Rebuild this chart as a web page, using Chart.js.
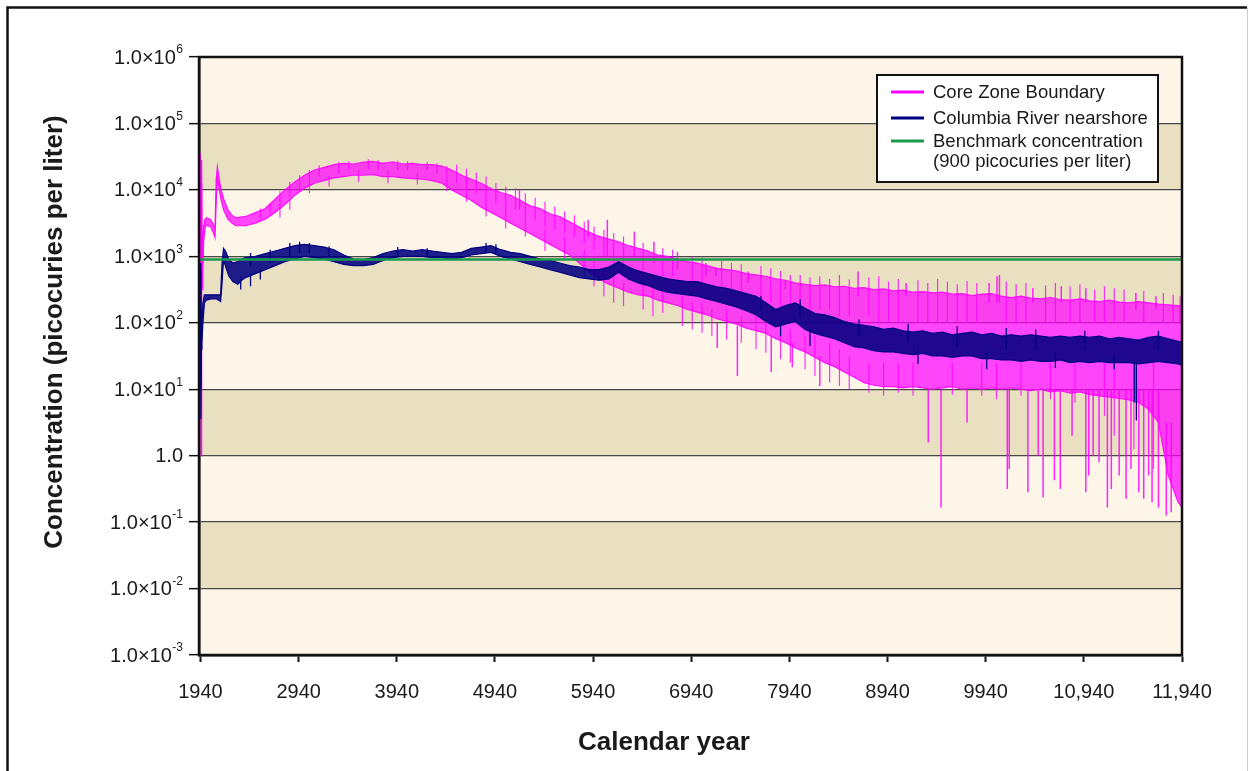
<!DOCTYPE html>
<html>
<head>
<meta charset="utf-8">
<title>Concentration at Core Zone Boundary and Columbia River</title>
<script src="https://cdn.jsdelivr.net/npm/chart.js@4.4.1/dist/chart.umd.min.js"></script>
<style>
  html, body { margin: 0; padding: 0; background: #fff; }
  #wrap { width: 1251px; height: 771px; position: relative; }
</style>
</head>
<body>
<div id="wrap"><canvas id="concChart"></canvas></div>
<script>
// Axis ticks
const xTickValues = [1940, 2940, 3940, 4940, 5940, 6940, 7940, 8940, 9940, 10940, 11940];
const xTickLabels = ['1940', '2940', '3940', '4940', '5940', '6940', '7940', '8940', '9940', '10,940', '11,940'];
const yTickValues = [1e6, 1e5, 1e4, 1e3, 1e2, 1e1, 1, 0.1, 0.01, 0.001];
const yTickBase = ['1.0×10', '1.0×10', '1.0×10', '1.0×10', '1.0×10', '1.0×10', '1.0', '1.0×10', '1.0×10', '1.0×10'];
const yTickSup = ['6', '5', '4', '3', '2', '1', '', '-1', '-2', '-3'];

// Shared sample years after the early transient (every 100 years)
const mainYears = [
  2400, 2500, 2600, 2700, 2800, 2900,
  3000, 3100, 3200, 3300, 3400, 3500, 3600, 3700, 3800, 3900,
  4000, 4100, 4200, 4300, 4400, 4500, 4600, 4700, 4800, 4900,
  5000, 5100, 5200, 5300, 5400, 5500, 5600, 5700, 5800, 5900,
  6000, 6100, 6200, 6300, 6400, 6500, 6600, 6700, 6800, 6900,
  7000, 7100, 7200, 7300, 7400, 7500, 7600, 7700, 7800, 7900,
  8000, 8100, 8200, 8300, 8400, 8500, 8600, 8700, 8800, 8900,
  9000, 9100, 9200, 9300, 9400, 9500, 9600, 9700, 9800, 9900,
  10000, 10100, 10200, 10300, 10400, 10500, 10600, 10700, 10800, 10900,
  11000, 11100, 11200, 11300, 11400, 11500, 11600, 11700, 11800, 11900,
  11940
];

// Core Zone Boundary: upper / lower edge of the noisy band, log10(pCi/L)
const coreEarlyYears = [1940, 1946, 1952, 1957, 1963, 1972, 1985, 2000, 2020, 2045, 2070, 2088, 2100, 2112, 2125, 2150, 2180, 2220, 2260, 2300];
const coreEarlyHigh = [4.55, 3.2, 4.45, 2.9, 3.2, 3.45, 3.55, 3.58, 3.57, 3.55, 3.48, 3.42, 4.15, 4.35, 4.22, 4.0, 3.85, 3.70, 3.62, 3.58];
const coreEarlyLow = [4.3, 0.0, 4.1, 2.5, 2.8, 3.2, 3.42, 3.47, 3.46, 3.44, 3.36, 3.28, 3.8, 4.2, 4.05, 3.85, 3.68, 3.56, 3.5, 3.46];
const coreHigh = [
  3.60, 3.66, 3.72, 3.86, 4.00, 4.12,
  4.22, 4.30, 4.34, 4.38, 4.40, 4.39, 4.42, 4.43, 4.40, 4.42,
  4.39, 4.40, 4.38, 4.38, 4.36, 4.30, 4.22, 4.16, 4.10, 4.02,
  3.96, 3.92, 3.84, 3.76, 3.72, 3.64, 3.60, 3.52, 3.44, 3.36,
  3.30, 3.26, 3.22, 3.16, 3.12, 3.08, 3.02, 3.00, 2.96, 2.92,
  2.90, 2.86, 2.82, 2.80, 2.78, 2.74, 2.72, 2.70, 2.66, 2.64,
  2.60, 2.58, 2.56, 2.57, 2.54, 2.55, 2.52, 2.53, 2.50, 2.51,
  2.48, 2.49, 2.46, 2.47, 2.45, 2.46, 2.43, 2.44, 2.41, 2.43,
  2.44, 2.40, 2.38, 2.40, 2.37, 2.36, 2.38, 2.35, 2.34, 2.36,
  2.33, 2.32, 2.34, 2.31, 2.30, 2.32, 2.30, 2.28, 2.27, 2.26,
  2.25
];
const coreLow = [
  3.46, 3.50, 3.56, 3.66, 3.78, 3.92,
  4.02, 4.10, 4.14, 4.18, 4.20, 4.22, 4.22, 4.23, 4.20, 4.20,
  4.18, 4.17, 4.16, 4.14, 4.10, 4.00, 3.92, 3.84, 3.74, 3.66,
  3.58, 3.50, 3.42, 3.34, 3.26, 3.18, 3.10, 3.02, 2.90, 2.76,
  2.66, 2.58, 2.52, 2.46, 2.42, 2.40, 2.34, 2.30, 2.26, 2.20,
  2.16, 2.12, 2.06, 2.02, 1.98, 1.92, 1.88, 1.84, 1.76, 1.70,
  1.62, 1.56, 1.48, 1.40, 1.34, 1.26, 1.18, 1.10, 1.06, 1.04,
  1.04, 1.02, 1.04, 1.02, 1.00, 1.02, 1.04, 1.00, 1.02, 1.00,
  1.02, 1.00, 1.02, 1.00, 0.98, 1.00, 0.96, 0.98, 0.94, 0.96,
  0.92, 0.90, 0.88, 0.86, 0.84, 0.80, 0.70, 0.50, -0.30, -0.70,
  -0.78
];
// Long isolated spikes of the Core Zone Boundary curve (year, start, end in log10)
const coreSpikeYears = [5190, 5890, 6085, 6360, 6560, 6800, 7090, 7190, 7520, 7900, 8640, 9130, 9975, 10055, 10080, 10420, 10710, 10960, 11470, 11675,
  7205, 7410, 7755, 7970, 8250, 9355, 9485, 9750, 10160, 10180, 10370, 10475, 10525, 10640, 10700, 10820, 10960, 10990, 11035, 11095,
  11180, 11220, 11300, 11370, 11420, 11500, 11550, 11600, 11635, 11700, 11780, 11830];
const coreSpikeFrom = [3.7, 3.3, 3.0, 3.0, 2.9, 2.8, 2.7, 2.7, 2.6, 2.5, 2.4, 2.4, 2.3, 2.3, 2.3, 2.3, 2.3, 2.3, 2.2, 2.2,
  2.0, 1.95, 1.8, 1.7, 1.5, 1.0, 1.0, 1.0, 1.0, 1.0, 1.0, 1.0, 1.0, 1.0, 1.0, 1.0, 1.0, 1.0, 1.0, 1.0,
  1.0, 1.0, 1.0, 1.0, 1.0, 1.0, 1.0, 1.0, 1.0, 1.0, 0.5, 0.5];
const coreSpikeTo = [4.0, 3.55, 3.55, 3.37, 3.22, 3.07, 2.9, 2.83, 2.77, 2.63, 2.77, 2.6, 2.6, 2.7, 2.72, 2.52, 2.55, 2.52, 2.45, 2.4,
  1.62, 1.2, 1.26, 1.33, 1.05, 0.2, -0.78, 0.5, -0.5, -0.2, -0.55, 0.0, -0.63, -0.37, -0.5, 0.3, -0.55, -0.3, 0.0, -0.1,
  -0.78, -0.5, -0.3, -0.65, -0.2, -0.55, -0.65, -0.3, -0.7, -0.78, -0.9, -0.85];
// Short noise hairs on the edges of the Core Zone Boundary band
const coreHairYears = [
  2550, 2650, 2750, 2850, 2950, 3050, 3150, 3350, 3450, 3650, 3750, 3950, 4050, 4250, 4350, 4450,
  2750, 2850, 3050, 3250, 3550, 3850, 4150, 4450,
  4550, 4650, 4750, 4850, 4950, 5050, 5150, 5250, 5350, 5450, 5550, 5650, 5750, 5850, 5950,
  4650, 4850, 5050, 5250, 5450, 5650, 5850, 5950,
  6050, 6150, 6250, 6450, 6650, 6750, 6950, 7050, 7250, 7350, 7450, 7650, 7750, 7850, 7950,
  6050, 6150, 6250, 6450, 6550, 6650, 6850, 6950, 7050, 7150, 7300, 7450, 7600, 7700, 7850, 7950,
  8050, 8150, 8250, 8350, 8450, 8550, 8750, 8850, 8950, 9050, 9250, 9350, 9450, 9550, 9650, 9750,
  9850, 10150, 10250, 10350, 10550, 10650, 10800, 10900, 11050, 11150, 11250, 11350, 11550, 11750, 11850, 11920,
  8100, 8200, 8350, 8450, 8550, 8750, 8900, 9050, 9200, 9600, 9900, 10050, 10300, 10600, 10850, 11150, 11250, 11450, 11650
];
const coreHairFrom = [
  3.55, 3.62, 3.75, 3.9, 4.0, 4.1, 4.2, 4.25, 4.3, 4.3, 4.3, 4.3, 4.3, 4.3, 4.25, 4.2,
  3.75, 3.85, 4.1, 4.2, 4.3, 4.3, 4.25, 4.2,
  4.1, 4.0, 3.95, 3.85, 3.8, 3.75, 3.7, 3.6, 3.55, 3.45, 3.4, 3.35, 3.3, 3.2, 3.1,
  4.1, 3.9, 3.75, 3.6, 3.4, 3.3, 3.1, 3.0,
  3.0, 2.9, 2.9, 2.8, 2.7, 2.7, 2.6, 2.5, 2.5, 2.4, 2.4, 2.3, 2.3, 2.2, 2.2,
  2.8, 2.7, 2.6, 2.6, 2.5, 2.5, 2.4, 2.3, 2.3, 2.2, 2.2, 2.1, 2.1, 2.0, 1.9, 1.9,
  2.2, 2.2, 2.2, 2.2, 2.1, 2.1, 2.1, 2.0, 2.0, 2.0, 2.0, 2.0, 2.0, 2.0, 2.0, 2.0,
  2.0, 2.0, 2.0, 2.0, 2.0, 2.0, 2.0, 2.0, 2.0, 2.0, 2.0, 2.0, 2.0, 2.0, 2.0, 2.0,
  1.8, 1.8, 1.7, 1.6, 1.5, 1.4, 1.4, 1.4, 1.4, 1.4, 1.4, 1.4, 1.4, 1.4, 1.4, 1.4, 1.4, 1.4, 1.4
];
const coreHairTo = [
  3.72, 3.8, 3.98, 4.12, 4.22, 4.3, 4.37, 4.42, 4.43, 4.46, 4.45, 4.44, 4.43, 4.42, 4.4, 4.36,
  3.58, 3.7, 3.95, 4.05, 4.12, 4.1, 4.08, 3.98,
  4.38, 4.32, 4.26, 4.2, 4.1, 4.05, 4.02, 3.95, 3.88, 3.82, 3.75, 3.68, 3.62, 3.52, 3.45,
  3.82, 3.6, 3.42, 3.3, 3.08, 2.95, 2.7, 2.55,
  3.4, 3.35, 3.3, 3.2, 3.12, 3.1, 3.0, 2.98, 2.93, 2.9, 2.88, 2.85, 2.82, 2.78, 2.72,
  2.4, 2.3, 2.25, 2.2, 2.1, 2.15, 1.95, 1.9, 1.85, 1.8, 1.75, 1.7, 1.6, 1.55, 1.45, 1.4,
  2.72, 2.68, 2.7, 2.66, 2.72, 2.65, 2.68, 2.7, 2.62, 2.66, 2.64, 2.6, 2.66, 2.62, 2.58, 2.63,
  2.6, 2.62, 2.58, 2.6, 2.56, 2.6, 2.55, 2.58, 2.5, 2.55, 2.52, 2.5, 2.48, 2.45, 2.42, 2.4,
  1.3, 1.2, 1.1, 1.05, 1.0, 0.95, 0.9, 0.95, 0.9, 0.92, 0.9, 0.85, 0.9, 0.85, 0.8, 0.6, 0.3, 0.1, -0.2
];

// Columbia River nearshore: upper / lower edge, log10(pCi/L)
const riverEarlyYears = [1940, 1944, 1948, 1955, 1965, 1980, 2000, 2050, 2100, 2145, 2160, 2175, 2195, 2230, 2270, 2320, 2360];
const riverEarlyHigh = [2.90, 1.0, 2.2, 2.0, 2.3, 2.42, 2.42, 2.42, 2.42, 2.42, 2.9, 3.12, 3.08, 2.95, 2.90, 2.92, 2.96];
const riverEarlyLow = [2.80, 0.55, 1.6, 1.7, 2.0, 2.3, 2.34, 2.36, 2.36, 2.32, 2.6, 2.95, 2.85, 2.70, 2.62, 2.58, 2.64];
const riverHigh = [
  2.98, 3.00, 3.04, 3.08, 3.12, 3.16,
  3.18, 3.16, 3.14, 3.10, 3.02, 2.96, 2.95, 2.98, 3.04, 3.08,
  3.10, 3.08, 3.10, 3.08, 3.06, 3.04, 3.06, 3.12, 3.14, 3.16,
  3.10, 3.06, 3.04, 3.00, 2.96, 2.94, 2.90, 2.86, 2.84, 2.80,
  2.80, 2.84, 2.92, 2.84, 2.78, 2.74, 2.70, 2.66, 2.64, 2.62,
  2.62, 2.58, 2.54, 2.52, 2.48, 2.44, 2.40, 2.30, 2.20, 2.26,
  2.30, 2.22, 2.14, 2.12, 2.08, 2.02, 1.98, 1.96, 1.94, 1.90,
  1.92, 1.88, 1.86, 1.88, 1.84, 1.86, 1.82, 1.84, 1.86, 1.82,
  1.84, 1.80, 1.82, 1.80, 1.82, 1.80, 1.78, 1.80, 1.78, 1.80,
  1.78, 1.80, 1.76, 1.78, 1.76, 1.74, 1.78, 1.80, 1.76, 1.72,
  1.70
];
const riverLow = [
  2.68, 2.74, 2.80, 2.86, 2.92, 2.96,
  3.00, 2.98, 2.96, 2.92, 2.88, 2.86, 2.86, 2.88, 2.94, 2.98,
  3.00, 3.00, 3.00, 2.98, 2.98, 2.96, 2.98, 3.02, 3.04, 3.06,
  3.00, 2.96, 2.92, 2.88, 2.84, 2.80, 2.76, 2.72, 2.68, 2.66,
  2.64, 2.66, 2.76, 2.66, 2.60, 2.56, 2.50, 2.46, 2.44, 2.42,
  2.40, 2.36, 2.32, 2.28, 2.24, 2.18, 2.12, 2.02, 1.94, 1.98,
  2.02, 1.90, 1.84, 1.80, 1.76, 1.70, 1.64, 1.62, 1.58, 1.56,
  1.56, 1.54, 1.52, 1.54, 1.50, 1.50, 1.48, 1.50, 1.50, 1.46,
  1.46, 1.44, 1.44, 1.42, 1.44, 1.42, 1.42, 1.44, 1.40, 1.42,
  1.40, 1.42, 1.40, 1.40, 1.40, 1.38, 1.40, 1.42, 1.40, 1.38,
  1.36
];
// Spikes and noise hairs of the river curve (year, start, end in log10)
const riverSpikeYears = [11455, 11475,
  2350, 2450, 2550, 2450, 2650, 2850, 2950, 3050, 3250, 3950, 4250, 4850, 4950,
  7650, 8050, 8650, 9150, 9650, 10150, 10450, 10950, 11700,
  7850, 8150, 9250, 9950, 10650, 11250];
const riverSpikeFrom = [1.4, 1.4,
  2.7, 2.75, 2.8, 2.85, 2.9, 3.0, 3.05, 3.05, 3.0, 3.0, 3.0, 3.05, 3.05,
  2.2, 2.1, 1.8, 1.7, 1.65, 1.6, 1.6, 1.6, 1.6,
  2.0, 1.9, 1.6, 1.55, 1.55, 1.5];
const riverSpikeTo = [0.8, 0.53,
  2.5, 2.55, 2.65, 3.05, 3.1, 3.2, 3.22, 3.2, 3.15, 3.14, 3.12, 3.2, 3.18,
  2.4, 2.35, 2.05, 1.98, 1.95, 1.92, 1.9, 1.88, 1.88,
  1.8, 1.65, 1.38, 1.3, 1.32, 1.3];

// Benchmark concentration (log10 of 900 pCi/L)
const benchmarkYears = [1925, 11940];
const benchmarkLog = [2.954, 2.954];

const legendLabels = ['Core Zone Boundary', 'Columbia River nearshore', 'Benchmark concentration', '(900 picocuries per liter)'];
const legendColors = ['#ff00ff', '#000080', '#1b9a4b', null];

const PINK = 'rgba(255,0,255,0.9)';
const NAVY = '#000080';
const GREEN = '#1b9a4b';

function band(years, logs) {
  return years.map(function(yr, i) { return { x: yr, y: Math.pow(10, logs[i]) }; });
}
function spikes(years, from, to) {
  const pts = [];
  years.forEach(function(yr, i) {
    pts.push({ x: yr, y: Math.pow(10, from[i]) }, { x: yr, y: Math.pow(10, to[i]) }, { x: yr, y: null });
  });
  return pts;
}

const coreYears = coreEarlyYears.concat(mainYears);
const riverYears = riverEarlyYears.concat(mainYears);

const line = { pointRadius: 0, tension: 0, fill: false, spanGaps: false };

// Background bands, frame, labels, legend
const decorPlugin = {
  id: 'decor',
  beforeDraw: function(chart) {
    const c = chart.ctx, a = chart.chartArea, y = chart.scales.y;
    c.save();
    c.fillStyle = '#ffffff';
    c.fillRect(0, 0, chart.width, chart.height);
    c.strokeStyle = '#111';
    c.lineWidth = 2.5;
    c.beginPath();
    c.moveTo(7.5, 780); c.lineTo(7.5, 7.5); c.lineTo(1247, 7.5);
    c.stroke();
    c.strokeStyle = '#cfcfcf';
    c.lineWidth = 1;
    c.beginPath(); c.moveTo(1247.5, 7.5); c.lineTo(1247.5, 780); c.stroke();
    c.fillStyle = '#fdf6e8';
    c.fillRect(a.left, a.top, a.right - a.left, a.bottom - a.top);
    c.fillStyle = '#e9e0c2';
    for (let i = 1; i < yTickValues.length - 1; i += 2) {
      const t = y.getPixelForValue(yTickValues[i]);
      const b = y.getPixelForValue(yTickValues[i + 1]);
      c.fillRect(a.left, t, a.right - a.left, b - t);
    }
    c.restore();
  },
  afterDraw: function(chart) {
    const c = chart.ctx, a = chart.chartArea, y = chart.scales.y;
    c.save();
    // plot frame
    c.strokeStyle = '#111';
    c.lineWidth = 2.5;
    c.strokeRect(a.left, a.top, a.right - a.left, a.bottom - a.top);

    // y tick labels with superscripts
    c.fillStyle = '#1a1a1a';
    c.textBaseline = 'middle';
    yTickValues.forEach(function(v, i) {
      const py = y.getPixelForValue(v);
      const right = 183;
      c.font = '12px "Liberation Sans", Arial, sans-serif';
      const sw = yTickSup[i] ? c.measureText(yTickSup[i]).width : 0;
      c.textAlign = 'left';
      if (yTickSup[i]) c.fillText(yTickSup[i], right - sw, py - 7);
      c.font = '20px "Liberation Sans", Arial, sans-serif';
      c.textAlign = 'right';
      c.fillText(yTickBase[i], right - sw - (sw ? 0.5 : 0), py + 1);
    });

    // axis titles
    c.font = 'bold 26px "Liberation Sans", Arial, sans-serif';
    c.fillStyle = '#1a1a1a';
    c.textAlign = 'center';
    c.textBaseline = 'middle';
    c.fillText('Calendar year', 664, 743);
    c.translate(55, 332);
    c.rotate(-Math.PI / 2);
    c.fillText('Concentration (picocuries per liter)', 0, 0);
    c.restore();

    // legend box
    c.save();
    c.fillStyle = '#ffffff';
    c.fillRect(877, 75, 281, 107);
    c.strokeStyle = '#111';
    c.lineWidth = 2;
    c.strokeRect(877, 75, 281, 107);
    const rows = [92, 118, 141, 161];
    c.font = '18.5px "Liberation Sans", Arial, sans-serif';
    c.textAlign = 'left';
    c.textBaseline = 'middle';
    legendLabels.forEach(function(label, i) {
      if (legendColors[i]) {
        c.strokeStyle = legendColors[i];
        c.lineWidth = 3;
        c.beginPath();
        c.moveTo(891, rows[i]);
        c.lineTo(924, rows[i]);
        c.stroke();
      }
      c.fillStyle = '#1a1a1a';
      c.fillText(label, 933, rows[i] + 1);
    });
    c.restore();
  }
};

const ctx = document.getElementById('concChart').getContext('2d');
const concChart = new Chart(ctx, {
  type: 'line',
  data: {
    datasets: [
      Object.assign({}, line, { label: 'Benchmark concentration', data: band(benchmarkYears, benchmarkLog),
        borderColor: GREEN, borderWidth: 2.5 }),
      Object.assign({}, line, { label: 'river spikes', data: spikes(riverSpikeYears, riverSpikeFrom, riverSpikeTo),
        borderColor: NAVY, borderWidth: 1.3 }),
      Object.assign({}, line, { label: 'Columbia River nearshore', data: band(riverYears, riverEarlyHigh.concat(riverHigh)),
        borderColor: NAVY, borderWidth: 1.2 }),
      Object.assign({}, line, { label: 'river low', data: band(riverYears, riverEarlyLow.concat(riverLow)),
        borderColor: NAVY, borderWidth: 1.2, fill: '-1', backgroundColor: 'rgba(0,0,128,0.88)' }),
      Object.assign({}, line, { label: 'core hairs', data: spikes(coreHairYears, coreHairFrom, coreHairTo),
        borderColor: 'rgba(255,0,255,0.8)', borderWidth: 1.2 }),
      Object.assign({}, line, { label: 'core spikes', data: spikes(coreSpikeYears, coreSpikeFrom, coreSpikeTo),
        borderColor: 'rgba(255,0,255,0.85)', borderWidth: 1.5 }),
      Object.assign({}, line, { label: 'Core Zone Boundary', data: band(coreYears, coreEarlyHigh.concat(coreHigh)),
        borderColor: PINK, borderWidth: 1.2 }),
      Object.assign({}, line, { label: 'core low', data: band(coreYears, coreEarlyLow.concat(coreLow)),
        borderColor: PINK, borderWidth: 1.2, fill: '-1', backgroundColor: 'rgba(255,0,255,0.72)' })
    ]
  },
  options: {
    responsive: true,
    maintainAspectRatio: false,
    animation: false,
    layout: { padding: { top: 57, right: 69, bottom: 0, left: 0 } },
    plugins: {
      legend: { display: false },
      tooltip: { enabled: false }
    },
    scales: {
      x: {
        type: 'linear',
        min: 1925,
        max: 11940,
        afterBuildTicks: function(scale) {
          scale.ticks = xTickValues.map(function(v) { return { value: v }; });
        },
        afterFit: function(scale) { scale.height = 116; },
        grid: { drawOnChartArea: false, drawTicks: true, tickLength: 7, tickColor: '#111', tickWidth: 2 },
        border: { display: true, color: '#111', width: 2.5 },
        ticks: {
          autoSkip: false,
          maxRotation: 0,
          padding: 18,
          color: '#1a1a1a',
          font: { family: '"Liberation Sans", Arial, sans-serif', size: 20 },
          callback: function(value, index) { return xTickLabels[index]; }
        }
      },
      y: {
        type: 'logarithmic',
        min: 0.001,
        max: 1e6,
        afterBuildTicks: function(scale) {
          scale.ticks = yTickValues.map(function(v) { return { value: v }; });
        },
        afterFit: function(scale) { scale.width = 199; },
        grid: { color: '#474747', lineWidth: 1.3, tickLength: 10, tickColor: '#111', tickWidth: 1.5 },
        border: { display: true, color: '#111', width: 2.5 },
        ticks: { display: false }
      }
    }
  },
  plugins: [decorPlugin]
});
</script>
</body>
</html>
